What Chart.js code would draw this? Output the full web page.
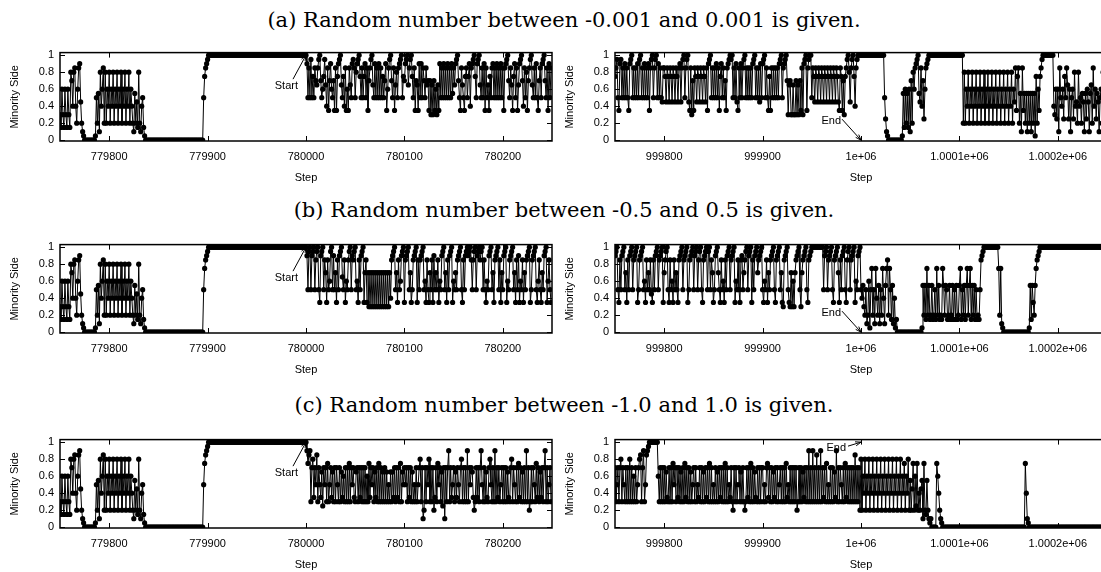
<!DOCTYPE html>
<html>
<head>
<meta charset="utf-8">
<script src="https://cdn.jsdelivr.net/npm/chart.js@4/dist/chart.umd.min.js"></script>
<style>
html, body { margin: 0; padding: 0; background: #fff; width: 1101px; height: 572px; overflow: hidden; position: relative; }
.title { position: absolute; left: 0; width: 1128px; text-align: center; font-family: "DejaVu Serif", serif; font-size: 21px; line-height: 24px; color: #000; white-space: nowrap; }
canvas { position: absolute; }
</style>
</head>
<body>
<div class="title" id="t0"></div>
<div class="title" id="t1"></div>
<div class="title" id="t2"></div>
<canvas id="a1" width="560" height="149"></canvas>
<canvas id="a2" width="560" height="149"></canvas>
<canvas id="b1" width="560" height="149"></canvas>
<canvas id="b2" width="560" height="149"></canvas>
<canvas id="c1" width="560" height="149"></canvas>
<canvas id="c2" width="560" height="149"></canvas>
<script>
// one letter per step: a = 0.00, b = 0.05 ... u = 1.00
const CODES = "abcdefghijklmnopqrstu";

const titles = [
    "(a) Random number between -0.001 and 0.001 is given.",
    "(b) Random number between -0.5 and 0.5 is given.",
    "(c) Random number between -1.0 and 1.0 is given."
];
const leftTickValues = [779800, 779900, 780000, 780100, 780200];
const leftTickLabels = ["779800", "779900", "780000", "780100", "780200"];
const rightTickValues = [999800, 999900, 1000000, 1000100, 1000200];
const rightTickLabels = ["999800", "999900", "1e+06", "1.0001e+06", "1.0002e+06"];
const yTickValues = [0, 0.2, 0.4, 0.6, 0.8, 1];
const yTickLabels = ["0", "0.2", "0.4", "0.6", "0.8", "1"];

// steps 779750 .. 780000, identical in the three runs
const beforeStart =
    "gdmgdmgdmg dqoiqriemr sjecbaaaaa aaaaaabkel cqimreqemi qemiqemiqe miqemiqemi qemieclejd qecikdbaaa aaaaaaaaaa " +
    "aaaaaaaaaa aaaaaaaaaa aaaaaaaaaa aaaaaaaaaa aaaaaakprs tuuuuuuuuu uuuuuuuuuu uuuuuuuuuu uuuuuuuuuu uuuuuuuuuu " +
    "uuuuuuuuuu uuuuuuuuuu uuuuuuuuuu uuuuuuuuuu uuuuuuuuuu u";

// steps 780001 .. 780249
const afterStartA =
    "skrktkpkro nrtuokmptn irhosmkohr hpstunkpir hmhrnkstrk qstupkrkps krhortunks krkskrkpko shmrtuokrh nqkrstukpo " +
    "stunrtupkr honhskskro krnohogngo hmgnhskrks krkskrkslr nstuokhrnk hprkpsirst upkstunkrk shrknhpkrs krkskrkskr " +
    "hrstuokrnh pskrhnstuo irkqhortun krkskhorks tuokrhskr";
const afterStartB =
    "sktukstukr tukhstukro hrkmtuksko hrkstunkrh mkrtuksrtu kmhrkstuho rhogogogog ogogogogog ogogoirstu kohrkmstuh " +
    "rstukohkrs tuhrkrstuk mhrkhokrhs kokrhmkstu kohrkstuhm kokrstukhr kstusturkr tuksturtuk rkhmkstuko hrstukrhok " +
    "stuhmkrstu kohrkshmkr hokrstuhkr stukhmrkho kstuhmrkh";
const afterStartC =
    "sprsgoqhok rgokhnfoko gpgkohngog okgognhmgo gogpgokohg nogohogogo gmgphokogn hogpgogngo gngkgngnho gohogpgnko " +
    "kogohogngk gogkoqgoce ogokqgogoe hogpkognfo cogosgohko gnhokgoqgo gogsgokonh egohogoskg ognhgoqkgo gsgohogkog " +
    "ogognhgoqg okgogphogn gogsgoegog okgphognho gosgogkog";

// steps 999750 .. 1000249
const nearEndA =
    "prtkhstkrk skrkhstukr krksktukrk skrkshrtuk rtukskrkjr rpjrpjrpjr pjrpjrsjrt ukrtujhrgo hrpjrpjrpj rpjrhstukr " +
    "krkskrhpsk rkohrstutu krksjhrksk rtukrkrkrk stukrkrjsk stukrkhphr krkrkrkstu krstuognog gnggogngoh rgstuhrtuu " +
    "krpjrpjrpj rpjrpjrpjr pjrpjrpjhr phogprtuqj rtupirtuuu uuuuuuuuuu uuuuuuuuuu uuuukfcbaa aaaaaaaaaa aabldmeldm " +
    "coeqmrstul jriofmrstu uuuuuuuuuu uuuuuuuuuu uuuuuuuuuu uuuueqemiq emiqemiqem iqemiqemiq emiqemiqem iqemiqemiq " +
    "emiqemjrhp relcrhlelc lelclelbpe mhprtuuuuu uuuuuuigmf mcrkimfpkr nfmckmfqij eqikeljclf mjclnerimf ljckmeqilk";
const nearEndB =
    "stukhrkstu kohrkstukr stuhkrstuk mhrkokrjhr kstukrstuh ortukhrkmh rkokhrstuk rstuhkrstu kstukrtukh rstuktukro " +
    "hkstuokhrk mhrkstukrs tuhmkrkhrs kortukstuh rkstuorstu khmkrhokrs tukhrstuko hgrstukhgo gmgorstukg orstukhrst " +
    "uuuuuuuuuu uukstukrst ukhrstuohr kstukhrtuk rstuhmkstu kilgekcemb kpekcpielc kepiclprep kdlcibdaaa aaaaaaaaaa " +
    "aaaaaaaaaa aableldpel deldekdpel dedplelkde ldeldkdlde lpdkeldlpe lpdleldkde dkrstuuuuu uuuuuuuuuu pepcbaaaaa " +
    "aaaaaaaaaa aaaaaaaaaa abldlhelpr stuuuuuuuu uuuuuuuuuu uuuuuuuuuu uuuuuuuuuu uuuuuuuuuu uuuuuuuuuu uuuuuuuuuu";
const nearEndC =
    "ogkogoqgok gogogqgogm gogkoqrgos gkrstuuuuu uuuumgogog ognhgogogp kogohogngo gphogogngk ogogkhogog ngohogpgog " +
    "kgogngohog ogpgogkhog eogogkogng ogegohogpg ognhgogogo ogkgophogo gnhogogkog ogogphkgog ogogoegogo gnhogogsgo " +
    "gsgogrgogs gohogpgkgo gognhsgogo kgogphogog ogogrgogoe qemiqemiqe miqemiqemi qemiqemiqe miqemiqemi qemipemiqe " +
    "lejpemfpei ejlcpedlec bcaaaaapmi ecbaaaaaaa aaaaaaaaaa aaaaaaaaaa aaaaaaaaaa aaaaaaaaaa aaaaaaaaaa aaaaaaaaaa " +
    "aaaaaaaaaa aaaaaaapic baaaaaaaaa aaaaaaaaaa aaaaaaaaaa aaaaaaaaaa aaaaaaaaaa aaaaaaaaaa aaaaaaaaaa aaaaaaaaaa";

function toPoints(codes, firstStep) {
    return codes.replace(/\s/g, "").split("").map((ch, i) => ({ x: firstStep + i, y: CODES.indexOf(ch) * 0.05 }));
}

const font = { family: "'Liberation Sans', Arial, sans-serif", size: 11 };

// frame, inward ticks and the Start / End arrow
const framePlugin = {
    id: "frame",
    afterDatasetsDraw(chart, args, opts) {
        const { ctx, chartArea: a, scales } = chart;
        ctx.save();
        ctx.strokeStyle = "#000";
        ctx.lineWidth = 1.5;
        ctx.strokeRect(a.left, a.top, a.right - a.left, a.bottom - a.top);
        ctx.lineWidth = 1;
        ctx.beginPath();
        scales.x.ticks.forEach(t => {
            const px = Math.round(scales.x.getPixelForValue(t.value)) + 0.5;
            ctx.moveTo(px, a.bottom); ctx.lineTo(px, a.bottom - 5);
            ctx.moveTo(px, a.top); ctx.lineTo(px, a.top + 5);
        });
        scales.y.ticks.forEach(t => {
            const py = Math.round(scales.y.getPixelForValue(t.value)) + 0.5;
            ctx.moveTo(a.left, py); ctx.lineTo(a.left + 5, py);
            ctx.moveTo(a.right, py); ctx.lineTo(a.right - 5, py);
        });
        ctx.stroke();

        const n = opts.note;
        if (n) {
            const hx = scales.x.getPixelForValue(n.x);
            const hy = scales.y.getPixelForValue(n.y);
            const tx = hx + n.tail[0], ty = hy + n.tail[1];
            const ang = Math.atan2(hy - ty, hx - tx);
            ctx.beginPath();
            ctx.moveTo(tx, ty); ctx.lineTo(hx, hy);
            ctx.moveTo(hx - 6 * Math.cos(ang - 0.35), hy - 6 * Math.sin(ang - 0.35));
            ctx.lineTo(hx, hy);
            ctx.lineTo(hx - 6 * Math.cos(ang + 0.35), hy - 6 * Math.sin(ang + 0.35));
            ctx.stroke();
            ctx.fillStyle = "#000";
            ctx.font = "11px 'Liberation Sans', Arial, sans-serif";
            ctx.textAlign = "right";
            ctx.textBaseline = "middle";
            ctx.fillText(n.text, hx + n.label[0], hy + n.label[1]);
        }
        ctx.restore();
    }
};

function makeChart(id, left, top, points, xMin, tickValues, tickLabels, note) {
    const canvas = document.getElementById(id);
    canvas.style.left = left + "px";
    canvas.style.top = top + "px";
    return new Chart(canvas, {
        type: "line",
        data: {
            datasets: [{
                data: points,
                borderColor: "#000",
                borderWidth: 1,
                pointRadius: 2.6,
                pointBackgroundColor: "#000",
                pointBorderWidth: 0,
                pointHoverRadius: 0,
                tension: 0
            }]
        },
        options: {
            responsive: false,
            devicePixelRatio: 1,
            animation: false,
            events: [],
            layout: { padding: { top: 8, right: 8, left: 0, bottom: 0 } },
            plugins: {
                legend: { display: false },
                tooltip: { enabled: false },
                frame: { note: note }
            },
            scales: {
                x: {
                    type: "linear",
                    min: xMin,
                    max: xMin + 500,
                    afterBuildTicks: s => { s.ticks = tickValues.map(v => ({ value: v })); },
                    afterFit: s => { s.height = 48; },
                    grid: { display: false, drawTicks: false },
                    border: { display: false },
                    ticks: {
                        padding: 9, font: font, color: "#000", maxRotation: 0, autoSkip: false,
                        callback: (v, i) => tickLabels[i]
                    },
                    title: { display: true, text: "Step", font: font, color: "#000", padding: { top: 0, bottom: 4 } }
                },
                y: {
                    min: -0.01,
                    max: 1.03,
                    afterBuildTicks: s => { s.ticks = yTickValues.map(v => ({ value: v })); },
                    afterFit: s => { s.width = 60; },
                    grid: { display: false, drawTicks: false },
                    border: { display: false },
                    ticks: { padding: 6, font: font, color: "#000", callback: (v, i) => yTickLabels[i] },
                    title: { display: true, text: "Minority Side", font: font, color: "#000", padding: { top: 8, bottom: 0 } }
                }
            }
        },
        plugins: [framePlugin]
    });
}

const titleTops = [8, 198, 393];
titles.forEach((t, i) => {
    const el = document.getElementById("t" + i);
    el.textContent = t;
    el.style.top = titleTops[i] + "px";
});

const startNote = { text: "Start", x: 780000, y: 1, tail: [-13, 24], label: [-8, 31] };
const endLow = { text: "End", x: 1000000, y: 0, tail: [-19, -21], label: [-20, -19] };
const endHigh = { text: "End", x: 1000000, y: 1, tail: [-13, 4], label: [-15, 6] };

makeChart("a1", 0, 40, toPoints(beforeStart + afterStartA, 779750), 779750, leftTickValues, leftTickLabels, startNote);
makeChart("a2", 555, 40, toPoints(nearEndA, 999750), 999750, rightTickValues, rightTickLabels, endLow);
makeChart("b1", 0, 232, toPoints(beforeStart + afterStartB, 779750), 779750, leftTickValues, leftTickLabels, startNote);
makeChart("b2", 555, 232, toPoints(nearEndB, 999750), 999750, rightTickValues, rightTickLabels, endLow);
makeChart("c1", 0, 427, toPoints(beforeStart + afterStartC, 779750), 779750, leftTickValues, leftTickLabels, startNote);
makeChart("c2", 555, 427, toPoints(nearEndC, 999750), 999750, rightTickValues, rightTickLabels, endHigh);
</script>
</body>
</html>
